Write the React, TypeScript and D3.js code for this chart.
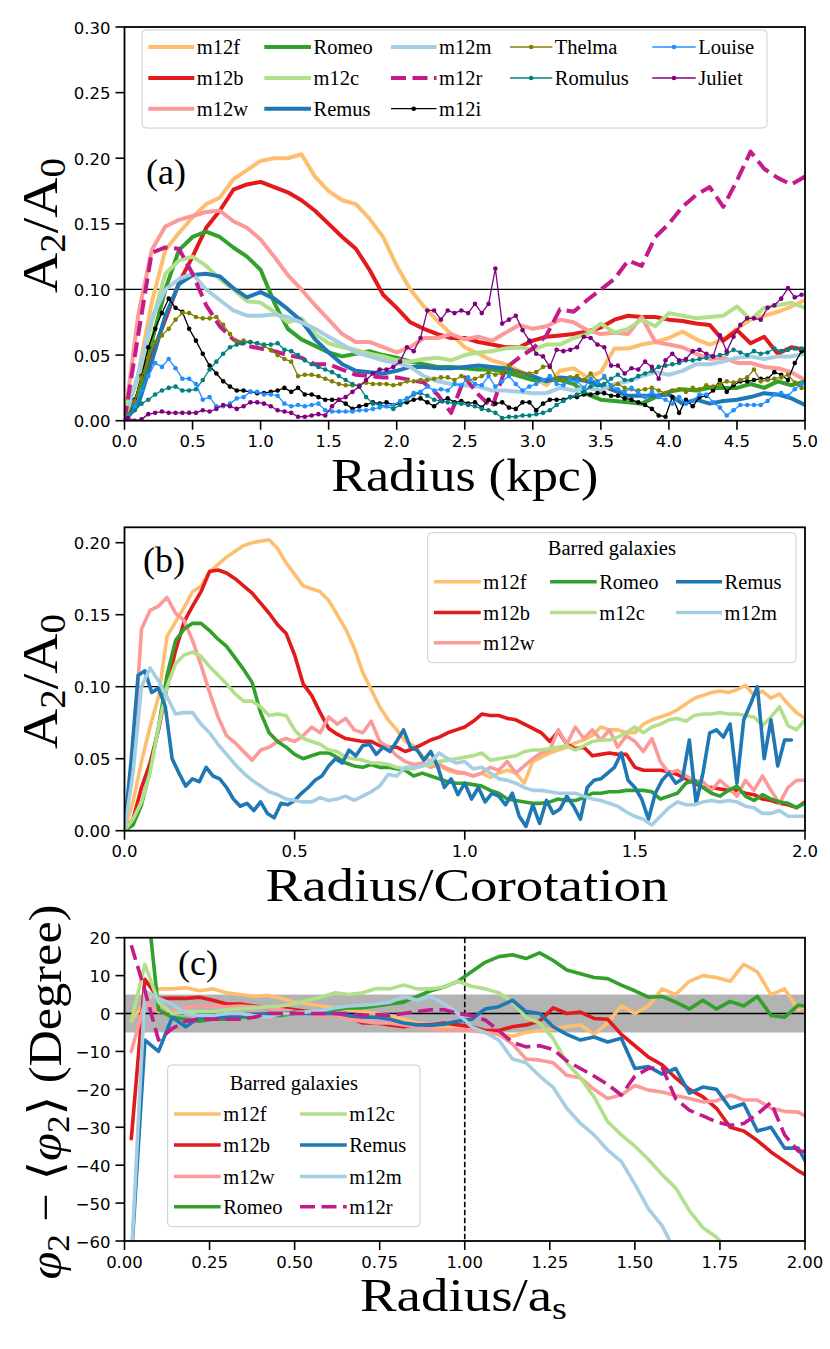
import React from 'react';
import * as d3 from 'd3';

const SERIF = "Liberation Serif, DejaVu Serif, Times New Roman, serif";
const SANS = "DejaVu Sans, sans-serif";

// sampling grids
const radiusA = d3.range(0, 5.0001, 0.1);
const radiusAMarked = d3.range(0.025, 5, 0.05);
const corotB = d3.range(0, 2.0001, 0.025);
const corotBRemus = d3.range(0, 1.9601, 0.02);
const radiusC = d3.range(0.02, 2.0201, 0.04);

// ---- panel (a): A2/A0 vs radius (kpc) ----
const m12fA = [0, 0.035, 0.09, 0.13, 0.143, 0.155, 0.165, 0.17, 0.184, 0.191, 0.198, 0.2, 0.2, 0.203, 0.186, 0.175, 0.168, 0.165, 0.154, 0.14, 0.118, 0.1, 0.087, 0.076, 0.066, 0.056, 0.051, 0.046, 0.043, 0.038, 0.033, 0.027, 0.038, 0.04, 0.033, 0.037, 0.055, 0.055, 0.058, 0.06, 0.063, 0.068, 0.062, 0.058, 0.062, 0.07, 0.077, 0.08, 0.083, 0.087, 0.092];
const m12bA = [0, 0.015, 0.05, 0.077, 0.105, 0.125, 0.147, 0.16, 0.176, 0.18, 0.182, 0.178, 0.174, 0.168, 0.16, 0.15, 0.14, 0.131, 0.115, 0.096, 0.086, 0.075, 0.07, 0.066, 0.063, 0.063, 0.06, 0.058, 0.056, 0.056, 0.061, 0.064, 0.065, 0.066, 0.068, 0.071, 0.077, 0.08, 0.079, 0.079, 0.077, 0.076, 0.074, 0.073, 0.061, 0.069, 0.059, 0.064, 0.051, 0.056, 0.054];
const m12wA = [0, 0.08, 0.13, 0.148, 0.153, 0.156, 0.159, 0.16, 0.152, 0.147, 0.138, 0.125, 0.111, 0.1, 0.088, 0.077, 0.066, 0.06, 0.06, 0.056, 0.052, 0.056, 0.063, 0.063, 0.066, 0.062, 0.064, 0.061, 0.067, 0.073, 0.07, 0.072, 0.077, 0.075, 0.069, 0.066, 0.067, 0.066, 0.079, 0.06, 0.058, 0.056, 0.051, 0.047, 0.048, 0.044, 0.044, 0.041, 0.04, 0.037, 0.031];
const romeoA = [0, 0.02, 0.06, 0.1, 0.13, 0.14, 0.144, 0.14, 0.132, 0.125, 0.115, 0.09, 0.07, 0.062, 0.057, 0.052, 0.049, 0.051, 0.053, 0.05, 0.048, 0.045, 0.043, 0.041, 0.041, 0.04, 0.039, 0.039, 0.037, 0.034, 0.031, 0.031, 0.031, 0.028, 0.02, 0.016, 0.015, 0.014, 0.013, 0.018, 0.022, 0.024, 0.023, 0.025, 0.025, 0.025, 0.028, 0.025, 0.03, 0.027, 0.03];
const m12cA = [0.01, 0.03, 0.075, 0.112, 0.122, 0.125, 0.118, 0.108, 0.1, 0.091, 0.09, 0.083, 0.075, 0.078, 0.066, 0.059, 0.056, 0.054, 0.051, 0.049, 0.046, 0.045, 0.047, 0.048, 0.046, 0.05, 0.052, 0.053, 0.055, 0.056, 0.054, 0.058, 0.058, 0.063, 0.066, 0.074, 0.067, 0.07, 0.077, 0.072, 0.082, 0.08, 0.078, 0.079, 0.08, 0.087, 0.077, 0.086, 0.088, 0.09, 0.086];
const remusA = [0, 0.012, 0.045, 0.08, 0.104, 0.111, 0.112, 0.11, 0.101, 0.094, 0.098, 0.093, 0.085, 0.076, 0.062, 0.052, 0.043, 0.038, 0.037, 0.036, 0.038, 0.041, 0.041, 0.04, 0.04, 0.041, 0.042, 0.041, 0.04, 0.037, 0.034, 0.03, 0.033, 0.032, 0.03, 0.027, 0.023, 0.019, 0.019, 0.019, 0.02, 0.013, 0.016, 0.013, 0.015, 0.016, 0.018, 0.021, 0.02, 0.017, 0.012];
const m12mA = [0, 0.035, 0.078, 0.1, 0.108, 0.112, 0.1, 0.092, 0.084, 0.08, 0.08, 0.081, 0.079, 0.075, 0.07, 0.064, 0.058, 0.052, 0.049, 0.046, 0.044, 0.041, 0.034, 0.03, 0.028, 0.027, 0.026, 0.023, 0.023, 0.022, 0.021, 0.021, 0.025, 0.023, 0.025, 0.023, 0.028, 0.03, 0.034, 0.037, 0.035, 0.038, 0.043, 0.043, 0.045, 0.048, 0.049, 0.047, 0.049, 0.049, 0.051];
const m12rA = [0, 0.065, 0.128, 0.132, 0.131, 0.112, 0.088, 0.072, 0.062, 0.057, 0.055, 0.053, 0.05, 0.048, 0.043, 0.043, 0.039, 0.035, 0.034, 0.033, 0.033, 0.031, 0.029, 0.02, 0.006, 0.033, 0.02, 0.01, 0.04, 0.048, 0.055, 0.065, 0.085, 0.083, 0.092, 0.1, 0.108, 0.122, 0.118, 0.14, 0.15, 0.163, 0.172, 0.178, 0.163, 0.183, 0.205, 0.192, 0.185, 0.18, 0.186];
const m12iA = [
  0.003, 0.016, 0.034, 0.056, 0.07, 0.082, 0.093, 0.086, 0.083, 0.07,
  0.061, 0.051, 0.042, 0.036, 0.03, 0.026, 0.023, 0.023, 0.022, 0.021,
  0.021, 0.022, 0.023, 0.025, 0.022, 0.025, 0.02, 0.02, 0.018, 0.016,
  0.016, 0.016, 0.013, 0.009, 0.011, 0.012, 0.014, 0.013, 0.014, 0.012,
  0.013, 0.014, 0.016, 0.017, 0.014, 0.011, 0.015, 0.017, 0.014, 0.015,
  0.013, 0.014, 0.01, 0.016, 0.013, 0.014, 0.01, 0.009, 0.014, 0.014,
  0.008, 0.013, 0.016, 0.016, 0.016, 0.018, 0.018, 0.02, 0.02, 0.021,
  0.021, 0.019, 0.019, 0.017, 0.016, 0.014, 0.012, 0.009, 0.004, 0.003,
  0.018, 0.006, 0.016, 0.011, 0.018, 0.019, 0.023, 0.031, 0.022, 0.027,
  0.03, 0.03, 0.031, 0.032, 0.032, 0.037, 0.035, 0.031, 0.044, 0.053,
];
const thelmaA = [
  0.005, 0.015, 0.033, 0.048, 0.06, 0.065, 0.07, 0.077, 0.082, 0.082,
  0.079, 0.078, 0.078, 0.079, 0.073, 0.066, 0.06, 0.061, 0.06, 0.059,
  0.057, 0.054, 0.05, 0.047, 0.045, 0.034, 0.035, 0.035, 0.034, 0.032,
  0.03, 0.028, 0.027, 0.027, 0.027, 0.029, 0.028, 0.028, 0.028, 0.027,
  0.028, 0.03, 0.03, 0.031, 0.031, 0.032, 0.033, 0.033, 0.031, 0.034,
  0.031, 0.032, 0.034, 0.037, 0.035, 0.036, 0.042, 0.037, 0.036, 0.036,
  0.037, 0.041, 0.042, 0.032, 0.031, 0.033, 0.034, 0.031, 0.036, 0.03,
  0.033, 0.026, 0.028, 0.025, 0.024, 0.023, 0.024, 0.025, 0.023, 0.021,
  0.023, 0.024, 0.022, 0.025, 0.024, 0.027, 0.026, 0.028, 0.03, 0.029,
  0.031, 0.033, 0.039, 0.03, 0.031, 0.032, 0.033, 0.035, 0.029, 0.025,
];
const romulusA = [
  0.003, 0.008, 0.013, 0.016, 0.02, 0.023, 0.025, 0.026, 0.023, 0.023,
  0.024, 0.031, 0.039, 0.045, 0.051, 0.056, 0.058, 0.059, 0.06, 0.059,
  0.058, 0.058, 0.059, 0.054, 0.053, 0.05, 0.046, 0.043, 0.041, 0.039,
  0.037, 0.034, 0.031, 0.028, 0.026, 0.018, 0.013, 0.012, 0.011, 0.009,
  0.012, 0.016, 0.02, 0.021, 0.019, 0.016, 0.015, 0.014, 0.013, 0.013,
  0.012, 0.011, 0.009, 0.008, 0.006, 0.002, 0.003, 0.003, 0.004, 0.004,
  0.005, 0.006, 0.008, 0.012, 0.015, 0.018, 0.02, 0.022, 0.026, 0.027,
  0.028, 0.032, 0.035, 0.031, 0.031, 0.034, 0.036, 0.038, 0.041, 0.042,
  0.043, 0.044, 0.046, 0.046, 0.047, 0.048, 0.049, 0.05, 0.051, 0.054,
  0.052, 0.05, 0.053, 0.051, 0.052, 0.055, 0.053, 0.054, 0.055, 0.055,
];
const louiseA = [
  0.003, 0.011, 0.023, 0.034, 0.044, 0.041, 0.047, 0.04, 0.032, 0.032,
  0.028, 0.016, 0.018, 0.011, 0.011, 0.013, 0.017, 0.018, 0.022, 0.022,
  0.02, 0.02, 0.019, 0.013, 0.011, 0.012, 0.011, 0.012, 0.013, 0.008,
  0.007, 0.007, 0.007, 0.007, 0.008, 0.008, 0.009, 0.01, 0.011, 0.012,
  0.015, 0.017, 0.021, 0.022, 0.026, 0.023, 0.024, 0.023, 0.028, 0.027,
  0.033, 0.028, 0.027, 0.034, 0.026, 0.03, 0.034, 0.028, 0.023, 0.026,
  0.028, 0.031, 0.034, 0.028, 0.027, 0.031, 0.03, 0.025, 0.032, 0.029,
  0.034, 0.027, 0.024, 0.022, 0.025, 0.021, 0.018, 0.022, 0.018, 0.016,
  0.013, 0.018, 0.013, 0.015, 0.02, 0.02, 0.014, 0.01, 0.004, 0.008,
  0.012, 0.012, 0.012, 0.012, 0.015, 0.02, 0.021, 0.019, 0.024, 0.028,
];
const julietA = [
  0.002, 0.0, 0.001, 0.005, 0.006, 0.007, 0.006, 0.006, 0.006, 0.006,
  0.006, 0.008, 0.007, 0.009, 0.012, 0.011, 0.009, 0.011, 0.014, 0.014,
  0.013, 0.011, 0.008, 0.007, 0.006, 0.003, 0.003, 0.004, 0.005, 0.004,
  0.011, 0.016, 0.018, 0.022, 0.026, 0.031, 0.036, 0.039, 0.039, 0.041,
  0.045, 0.056, 0.053, 0.063, 0.084, 0.084, 0.077, 0.084, 0.082, 0.084,
  0.082, 0.089, 0.082, 0.089, 0.116, 0.074, 0.077, 0.08, 0.069, 0.061,
  0.051, 0.049, 0.041, 0.054, 0.053, 0.054, 0.056, 0.064, 0.063, 0.058,
  0.056, 0.042, 0.042, 0.036, 0.04, 0.039, 0.045, 0.041, 0.032, 0.046,
  0.051, 0.046, 0.047, 0.053, 0.054, 0.051, 0.049, 0.065, 0.053, 0.064,
  0.073, 0.078, 0.078, 0.077, 0.086, 0.088, 0.093, 0.101, 0.094, 0.096,
];

// ---- panel (b): A2/A0 vs radius / corotation ----
const m12fB = [
  0, 0.02, 0.048, 0.072, 0.093, 0.135, 0.145, 0.155, 0.166, 0.17,
  0.18, 0.185, 0.19, 0.194, 0.198, 0.2, 0.201, 0.202, 0.196, 0.186,
  0.178, 0.17, 0.168, 0.166, 0.16, 0.15, 0.14, 0.127, 0.11, 0.098,
  0.086, 0.077, 0.07, 0.062, 0.059, 0.052, 0.048, 0.045, 0.042, 0.04,
  0.04, 0.038, 0.04, 0.037, 0.04, 0.042, 0.04, 0.033, 0.048, 0.051,
  0.054, 0.056, 0.058, 0.061, 0.063, 0.066, 0.072, 0.07, 0.07, 0.068,
  0.068, 0.074, 0.077, 0.079, 0.081, 0.084, 0.088, 0.092, 0.094, 0.096,
  0.097, 0.096, 0.098, 0.101, 0.094, 0.097, 0.092, 0.095, 0.088, 0.082,
  0.078,
];
const m12bB = [
  0, 0.008, 0.03, 0.047, 0.07, 0.1, 0.125, 0.145, 0.156, 0.166,
  0.18, 0.181, 0.179, 0.175, 0.17, 0.165, 0.158, 0.151, 0.143, 0.137,
  0.122, 0.102, 0.094, 0.082, 0.071, 0.067, 0.064, 0.063, 0.062, 0.062,
  0.059, 0.058, 0.058, 0.055, 0.057, 0.06, 0.063, 0.065, 0.068, 0.07,
  0.072, 0.076, 0.081, 0.08, 0.08, 0.078, 0.077, 0.074, 0.071, 0.068,
  0.062, 0.069, 0.06, 0.057, 0.058, 0.052, 0.053, 0.054, 0.053, 0.053,
  0.044, 0.042, 0.042, 0.042, 0.041, 0.039, 0.036, 0.033, 0.03, 0.03,
  0.029, 0.028, 0.028, 0.026, 0.025, 0.022, 0.021, 0.019, 0.018, 0.016,
  0.02,
];
const m12wB = [
  0, 0.05, 0.14, 0.153, 0.156, 0.162, 0.151, 0.146, 0.132, 0.115,
  0.096, 0.079, 0.066, 0.061, 0.055, 0.049, 0.056, 0.058, 0.062, 0.064,
  0.062, 0.066, 0.072, 0.068, 0.079, 0.074, 0.078, 0.07, 0.068, 0.076,
  0.062, 0.058, 0.052, 0.048, 0.046, 0.047, 0.044, 0.046, 0.043, 0.041,
  0.04, 0.038, 0.04, 0.044, 0.042, 0.048, 0.04, 0.045, 0.05, 0.054,
  0.056, 0.07, 0.06, 0.072, 0.064, 0.07, 0.063, 0.07, 0.058, 0.066,
  0.062, 0.055, 0.064, 0.048, 0.04, 0.042, 0.038, 0.035, 0.034, 0.028,
  0.035, 0.03, 0.024, 0.035, 0.028, 0.038, 0.028, 0.019, 0.03, 0.035,
  0.035,
];
const romeoB = [
  0, 0.004, 0.018, 0.042, 0.072, 0.108, 0.132, 0.14, 0.144, 0.144,
  0.139, 0.133, 0.128, 0.12, 0.112, 0.103, 0.082, 0.068, 0.062, 0.058,
  0.053, 0.05, 0.052, 0.054, 0.054, 0.051, 0.047, 0.045, 0.044, 0.046,
  0.044, 0.044, 0.043, 0.042, 0.038, 0.04, 0.038, 0.036, 0.034, 0.033,
  0.033, 0.032, 0.031, 0.028, 0.026, 0.022, 0.021, 0.02, 0.019, 0.019,
  0.02, 0.022, 0.021, 0.021, 0.023, 0.026, 0.026, 0.027, 0.027, 0.028,
  0.028, 0.028, 0.027, 0.022, 0.024, 0.026, 0.033, 0.035, 0.03, 0.026,
  0.024, 0.028, 0.031, 0.024, 0.021, 0.025, 0.022, 0.02, 0.019, 0.016,
  0.019,
];
const m12cB = [
  0, 0.008, 0.02, 0.04, 0.072, 0.1, 0.116, 0.122, 0.124, 0.121,
  0.114, 0.108, 0.102, 0.095, 0.09, 0.09, 0.086, 0.08, 0.081, 0.08,
  0.07, 0.064, 0.062, 0.06, 0.056, 0.055, 0.051, 0.05, 0.049, 0.047,
  0.047, 0.046, 0.044, 0.043, 0.043, 0.045, 0.046, 0.048, 0.049, 0.05,
  0.051, 0.052, 0.054, 0.049, 0.05, 0.051, 0.052, 0.055, 0.056, 0.056,
  0.057, 0.058, 0.059, 0.056, 0.059, 0.062, 0.063, 0.063, 0.065, 0.068,
  0.072, 0.068, 0.072, 0.074, 0.077, 0.078, 0.076, 0.08, 0.081, 0.081,
  0.082, 0.081, 0.081, 0.08, 0.079, 0.073, 0.079, 0.086, 0.073, 0.07,
  0.077,
];
const m12mB = [
  0, 0.04, 0.1, 0.113, 0.104, 0.093, 0.081, 0.082, 0.082, 0.074,
  0.068, 0.06, 0.053, 0.046, 0.04, 0.035, 0.031, 0.027, 0.025, 0.022,
  0.021, 0.02, 0.02, 0.023, 0.021, 0.022, 0.024, 0.021, 0.024, 0.027,
  0.031, 0.039, 0.038, 0.044, 0.044, 0.045, 0.048, 0.054, 0.05, 0.047,
  0.048, 0.043, 0.044, 0.04, 0.036, 0.035, 0.033, 0.03, 0.028, 0.028,
  0.027, 0.026, 0.026, 0.026, 0.024, 0.022, 0.021, 0.019, 0.017, 0.013,
  0.01, 0.008, 0.004, 0.01, 0.016, 0.02, 0.018, 0.018, 0.02, 0.021,
  0.02, 0.021, 0.02, 0.017, 0.016, 0.012, 0.012, 0.014, 0.01, 0.01,
  0.01,
];
const remusB = [
  0.002, 0.05, 0.108, 0.111, 0.096, 0.099, 0.086, 0.05, 0.04, 0.031,
  0.036, 0.034, 0.044, 0.038, 0.036, 0.03, 0.022, 0.017, 0.019, 0.014,
  0.02, 0.012, 0.009, 0.019, 0.018, 0.021, 0.026, 0.03, 0.035, 0.038,
  0.045, 0.05, 0.047, 0.056, 0.052, 0.059, 0.06, 0.053, 0.058, 0.055,
  0.062, 0.07, 0.058, 0.056, 0.049, 0.055, 0.045, 0.03, 0.036, 0.025,
  0.033, 0.022, 0.03, 0.02, 0.026, 0.024, 0.018, 0.026, 0.01, 0.003,
  0.018, 0.005, 0.021, 0.012, 0.015, 0.024, 0.017, 0.008, 0.03, 0.035,
  0.036, 0.04, 0.044, 0.054, 0.035, 0.03, 0.022, 0.008, 0.026, 0.035,
  0.04, 0.033, 0.036, 0.063, 0.019, 0.04, 0.068, 0.07, 0.065, 0.074,
  0.033, 0.077, 0.088, 0.1, 0.05, 0.077, 0.045, 0.063, 0.063,
];

// ---- panel (c): phi2 - <phi2> (degree) vs radius / a_s ----
const m12fC = [-2, 3, 6.5, 6.5, 6.8, 6.0, 6.5, 5.5, 5.0, 4.5, 4.8, 4.0, 3.0, 2.5, 2.0, 1.5, 1.0, 0.5, 0.0, -0.5, -1.5, -2.5, -3.0, -3.5, -3.5, -4.0, -4.5, -5.5, -6.0, -5.0, -4.5, -4.0, -3.5, -3.0, -5.5, -2.5, 2.0, 0.0, 2.0, 6.5, 5.0, 8.5, 10.0, 9.5, 8.5, 13, 11, 5, 6.5, 1, 3];
const m12bC = [-33, 9, 4, 4, 4, 4.3, 3.5, 2.5, 2.5, 2, 1.5, 1.5, 1, 0.5, 0, -0.5, -1, -2.5, -2.5, -3, -3.5, -3, -3, -2.5, -3, -3.5, -4.5, -4.5, -3.5, -3, -2, 1.5, 0, 0.4, -1.3, -1.5, -5.5, -8.5, -11.5, -13.5, -17, -20, -22, -25, -30, -31, -33.5, -36.5, -39, -41.5, -43.5];
const m12wC = [-10, 3, 0.4, 0.8, 1.5, 2, 2, 1.8, 2, 1.8, 1.5, 1, 0.5, 0, -0.5, -0.5, -1.5, -2, -2.5, -2.5, -3, -3.5, -4, -4.5, -4.2, -4.5, -5, -5.5, -8, -12, -12.3, -13, -16.3, -17, -20, -22.4, -21.5, -19, -20.2, -20.7, -21.6, -22.4, -23.3, -23, -21.5, -22.8, -22.8, -25, -25.8, -26, -28];
const romeoC = [60, 35, 1, -1, -1.5, -2, -1.5, -1.5, -1, -1, -0.5, -0.5, 0, 0.5, 0.5, 1, 1.5, 1.5, 2, 2.5, 3, 4.5, 6, 7, 8.5, 11, 13.5, 15, 15.5, 14.5, 16, 14, 11.5, 10.5, 9.5, 9.2, 7.5, 6, 4.3, 4.5, 3, 1.2, 3.5, 1.2, 3.2, 2, 4.5, -0.5, -1, 2.2, 1.8];
const m12cC = [-2, 13, 3, 0, 0.5, 0.5, 0.5, 1, 1.3, 1.5, 1.8, 2, 2.5, 3.5, 4.4, 5.5, 5, 5.5, 6.6, 6.5, 7.5, 6.5, 6.5, 7, 8.5, 7.2, 6.5, 5.5, 3, -1, -2.5, -6.6, -13, -17, -22, -28.5, -32, -35, -38.5, -42.5, -46, -52, -56.5, -59, -63, -68];
const remusC = [-65, -7, -10, -1, -3.5, -1, -1, -1, -0.5, -0.5, 0, 0, 0.3, 0, 0, 0, -0.5, -1, -1, -1.5, -2.5, -3, -3.1, -2.8, -2, -1.5, 1.2, 1.8, 3.5, 0.5, 0, -3.5, -5.5, -7, -6.2, -7.5, -6.5, -14.5, -14, -16, -14.5, -21, -19.4, -20, -25, -23.8, -31, -30, -35.5, -35.5, -42];
const m12mC = [-65, 6, 4, 2.5, 0, -0.5, -0.5, 0, 0, -0.5, -1, 0, 0, 0.5, 0.8, 1.5, 2, 2.2, 2.5, 3, 4.5, 3.5, 4.5, 2.5, 0, -3.5, -5, -7, -12, -13, -16.5, -19.5, -25, -29, -32, -36, -39, -45, -51.5, -56, -63];
const m12rC = [18, 6, -7, -4, -2, -1.5, -1.5, -1.5, -1.5, -1, 0, 0, 0, 0, 0, 0, 0, -0.5, -0.3, -0.5, 0, 0.5, 1, 1, 0, -0.5, -1.7, -4.5, -7.6, -8.8, -8.5, -9.5, -12.5, -14.5, -16.5, -18.7, -21.5, -16.5, -14.5, -14.2, -22.5, -25.5, -27, -28.6, -29.5, -29, -26.5, -23.5, -32, -36.3, -36.5];

const COLORS: Record<string, string> = {
  m12f: '#fdbf6f', m12b: '#e31a1c', m12w: '#fb9a99', Romeo: '#33a02c',
  m12c: '#b2df8a', Remus: '#1f78b4', m12m: '#a6cee3', m12r: '#c51b8a',
  m12i: '#000000', Thelma: '#808000', Romulus: '#008080', Louise: '#1e90ff', Juliet: '#800080',
};

type Series = { name: string; x: number[]; y: number[]; width: number; dash?: string; marker?: boolean };

const X0 = 124.5, X1 = 805;
const DASH = '15,6.5';
const LEG_FS = 20.5;

const seriesA: Series[] = [
  { name: 'm12f', x: radiusA, y: m12fA, width: 4 },
  { name: 'm12b', x: radiusA, y: m12bA, width: 4 },
  { name: 'm12w', x: radiusA, y: m12wA, width: 4 },
  { name: 'Romeo', x: radiusA, y: romeoA, width: 4 },
  { name: 'm12c', x: radiusA, y: m12cA, width: 4 },
  { name: 'Remus', x: radiusA, y: remusA, width: 4 },
  { name: 'm12m', x: radiusA, y: m12mA, width: 4 },
  { name: 'm12r', x: radiusA, y: m12rA, width: 4, dash: DASH },
  { name: 'm12i', x: radiusAMarked, y: m12iA, width: 1.3, marker: true },
  { name: 'Thelma', x: radiusAMarked, y: thelmaA, width: 1.3, marker: true },
  { name: 'Romulus', x: radiusAMarked, y: romulusA, width: 1.3, marker: true },
  { name: 'Louise', x: radiusAMarked, y: louiseA, width: 1.3, marker: true },
  { name: 'Juliet', x: radiusAMarked, y: julietA, width: 1.3, marker: true },
];

const seriesB: Series[] = [
  { name: 'm12f', x: corotB, y: m12fB, width: 3.6 },
  { name: 'm12b', x: corotB, y: m12bB, width: 3.6 },
  { name: 'm12w', x: corotB, y: m12wB, width: 3.6 },
  { name: 'Romeo', x: corotB, y: romeoB, width: 3.6 },
  { name: 'm12c', x: corotB, y: m12cB, width: 3.6 },
  { name: 'Remus', x: corotBRemus, y: remusB, width: 3.6 },
  { name: 'm12m', x: corotB, y: m12mB, width: 3.6 },
];

const seriesC: Series[] = [
  { name: 'm12f', x: radiusC, y: m12fC, width: 3.6 },
  { name: 'm12b', x: radiusC, y: m12bC, width: 3.6 },
  { name: 'm12w', x: radiusC, y: m12wC, width: 3.6 },
  { name: 'Romeo', x: radiusC, y: romeoC, width: 3.6 },
  { name: 'm12c', x: radiusC, y: m12cC, width: 3.6 },
  { name: 'Remus', x: radiusC, y: remusC, width: 3.6 },
  { name: 'm12m', x: radiusC, y: m12mC, width: 3.6 },
  { name: 'm12r', x: radiusC, y: m12rC, width: 3.6, dash: DASH },
];

type Scale = d3.ScaleLinear<number, number>;

const Lines = ({ series, xs, ys, clip }: { series: Series[]; xs: Scale; ys: Scale; clip: string }) => {
  const line = d3.line<[number, number]>().x(d => xs(d[0])).y(d => ys(d[1]));
  return (
    <g clipPath={`url(#${clip})`}>
      {series.map(s => {
        const pts = s.y.map((v, i) => [s.x[i], v] as [number, number]);
        return (
          <g key={s.name}>
            <path d={line(pts) || ''} fill="none" stroke={COLORS[s.name]} strokeWidth={s.width}
              strokeDasharray={s.dash} strokeLinejoin="round" strokeLinecap={s.dash ? 'butt' : 'round'} />
            {s.marker && pts.map((p, i) => (
              <circle key={i} cx={xs(p[0])} cy={ys(p[1])} r={2.3} fill={COLORS[s.name]} />
            ))}
          </g>
        );
      })}
    </g>
  );
};

const Axes = ({ xs, ys, xTicks, yTicks, xFmt, yFmt }: {
  xs: Scale; ys: Scale; xTicks: number[]; yTicks: number[];
  xFmt: (n: number) => string; yFmt: (n: number) => string;
}) => {
  const [x0, x1] = xs.range();
  const [yb, yt] = ys.range();
  return (
    <g>
      {xTicks.map(t => (
        <g key={'x' + t}>
          <line x1={xs(t)} x2={xs(t)} y1={yb} y2={yb + 9} stroke="#000" strokeWidth={1.6} />
          <text x={xs(t)} y={yb + 26.6} textAnchor="middle" fontFamily={SANS} fontSize={16.5}>{xFmt(t)}</text>
        </g>
      ))}
      {yTicks.map(t => (
        <g key={'y' + t}>
          <line x1={x0 - 9} x2={x0} y1={ys(t)} y2={ys(t)} stroke="#000" strokeWidth={1.6} />
          <text x={x0 - 14} y={ys(t)} dy="0.4em" textAnchor="end" fontFamily={SANS} fontSize={16.5}>{yFmt(t)}</text>
        </g>
      ))}
      <rect x={x0} y={yt} width={x1 - x0} height={yb - yt} fill="none" stroke="#000" strokeWidth={1.8} />
    </g>
  );
};

type Entry = { s: Series; col: number; row: number };

const Legend = ({ box, title, titleY, cols, rows, entries }: {
  box: [number, number, number, number]; title?: string; titleY?: number;
  cols: [number, number][]; rows: number[]; entries: Entry[];
}) => (
  <g>
    <rect x={box[0]} y={box[1]} width={box[2] - box[0]} height={box[3] - box[1]} rx={4}
      fill="#fff" fillOpacity={0.8} stroke="#cccccc" strokeWidth={1} />
    {title && (
      <text x={(box[0] + box[2]) / 2} y={titleY} textAnchor="middle" fontFamily={SERIF} fontSize={LEG_FS}>{title}</text>
    )}
    {entries.map(({ s, col, row }) => {
      const [h0, h1] = cols[col];
      const y = rows[row];
      return (
        <g key={s.name}>
          <line x1={h0} x2={h1} y1={y} y2={y} stroke={COLORS[s.name]} strokeWidth={s.width}
            strokeDasharray={s.dash} strokeLinecap="butt" />
          {s.marker && <circle cx={(h0 + h1) / 2} cy={y} r={2.3} fill={COLORS[s.name]} />}
          <text x={h1 + 2.5} y={y + 7.3} fontFamily={SERIF} fontSize={LEG_FS}>{s.name}</text>
        </g>
      );
    })}
  </g>
);

const byName = (list: Series[], n: string) => list.find(s => s.name === n)!;

const YLabelA = ({ cy }: { cy: number }) => (
  <text transform={`translate(57,${cy}) rotate(-90)`} textAnchor="middle" fontFamily={SERIF}
    fontSize={50} textLength={135} lengthAdjust="spacingAndGlyphs">
    A<tspan fontSize={35} dy={8}>2</tspan><tspan dy={-8}>/A</tspan><tspan fontSize={35} dy={8}>0</tspan>
  </text>
);

export default function App() {
  const xA = d3.scaleLinear().domain([0, 5]).range([X0, X1]);
  const yA = d3.scaleLinear().domain([0, 0.3]).range([420.7, 27]);
  const xB = d3.scaleLinear().domain([0, 2]).range([X0, X1]);
  const yB = d3.scaleLinear().domain([0, 0.2107]).range([830.7, 527.3]);
  const xC = d3.scaleLinear().domain([0, 2]).range([X0, X1]);
  const yC = d3.scaleLinear().domain([-60, 20]).range([1241, 937.7]);

  const f1 = d3.format('.1f');
  const f2 = d3.format('.2f');
  const fd = d3.format('d');

  const clipRect = (id: string, xs: Scale, ys: Scale) => {
    const [x0, x1] = xs.range();
    const [yb, yt] = ys.range();
    return <clipPath id={id}><rect x={x0} y={yt} width={x1 - x0} height={yb - yt} /></clipPath>;
  };

  const legA: Entry[] = [
    ['m12f', 0, 0], ['m12b', 0, 1], ['m12w', 0, 2],
    ['Romeo', 1, 0], ['m12c', 1, 1], ['Remus', 1, 2],
    ['m12m', 2, 0], ['m12r', 2, 1], ['m12i', 2, 2],
    ['Thelma', 3, 0], ['Romulus', 3, 1],
    ['Louise', 4, 0], ['Juliet', 4, 1],
  ].map(([n, c, r]) => ({ s: byName(seriesA, n as string), col: c as number, row: r as number }));

  const legB: Entry[] = [
    ['m12f', 0, 0], ['m12b', 0, 1], ['m12w', 0, 2],
    ['Romeo', 1, 0], ['m12c', 1, 1],
    ['Remus', 2, 0], ['m12m', 2, 1],
  ].map(([n, c, r]) => ({ s: byName(seriesB, n as string), col: c as number, row: r as number }));

  const legC: Entry[] = [
    ['m12f', 0, 0], ['m12b', 0, 1], ['m12w', 0, 2], ['Romeo', 0, 3],
    ['m12c', 1, 0], ['Remus', 1, 1], ['m12m', 1, 2], ['m12r', 1, 3],
  ].map(([n, c, r]) => ({ s: byName(seriesC, n as string), col: c as number, row: r as number }));

  return (
    <svg width={830} height={1349} viewBox="0 0 830 1349"
      style={{ position: 'absolute', left: 0, top: 0, background: '#fff' }}>
      <defs>
        {clipRect('clipA', xA, yA)}
        {clipRect('clipB', xB, yB)}
        {clipRect('clipC', xC, yC)}
      </defs>
      <rect x={0} y={0} width={830} height={1349} fill="#fff" />

      {/* ---------- panel (a) ---------- */}
      <line x1={X0} x2={X1} y1={yA(0.1)} y2={yA(0.1)} stroke="#000" strokeWidth={1.2} />
      <Lines series={seriesA} xs={xA} ys={yA} clip="clipA" />
      <Axes xs={xA} ys={yA} xTicks={d3.range(0, 5.01, 0.5)} yTicks={d3.range(0, 0.301, 0.05)} xFmt={f1} yFmt={f2} />
      <Legend box={[142, 30, 767, 128]} cols={[[148.3, 194.3], [264.3, 311], [391, 436.5], [510, 552.3], [652.3, 695.7]]}
        rows={[47, 78, 108.7]} entries={legA} />
      <text x={146} y={184} fontFamily={SERIF} fontSize={36}>(a)</text>
      <text x={464.75} y={491} textAnchor="middle" fontFamily={SERIF} fontSize={46} textLength={267} lengthAdjust="spacingAndGlyphs">Radius (kpc)</text>
      <YLabelA cy={225.5} />

      {/* ---------- panel (b) ---------- */}
      <line x1={X0} x2={X1} y1={yB(0.1)} y2={yB(0.1)} stroke="#000" strokeWidth={1.2} />
      <Lines series={seriesB} xs={xB} ys={yB} clip="clipB" />
      <Axes xs={xB} ys={yB} xTicks={d3.range(0, 2.01, 0.5)} yTicks={d3.range(0, 0.201, 0.05)} xFmt={f1} yFmt={f2} />
      <Legend box={[427.7, 532.7, 796, 662.7]} title="Barred galaxies" titleY={555}
        cols={[[434, 480.7], [550, 596.7], [676, 722]]} rows={[581.7, 612.5, 642.7]} entries={legB} />
      <text x={143} y={572} fontFamily={SERIF} fontSize={36}>(b)</text>
      <text x={467} y={901} textAnchor="middle" fontFamily={SERIF} fontSize={46} textLength={403} lengthAdjust="spacingAndGlyphs">Radius/Corotation</text>
      <YLabelA cy={681.5} />

      {/* ---------- panel (c) ---------- */}
      <rect x={X0} y={yC(5)} width={X1 - X0} height={yC(-5) - yC(5)} fill="#b3b3b3" />
      <line x1={X0} x2={X1} y1={yC(0)} y2={yC(0)} stroke="#000" strokeWidth={1.6} />
      <line x1={xC(1)} x2={xC(1)} y1={yC(20)} y2={yC(-60)} stroke="#000" strokeWidth={1.6} strokeDasharray="5.5,2.5" />
      <Lines series={seriesC} xs={xC} ys={yC} clip="clipC" />
      <Axes xs={xC} ys={yC} xTicks={d3.range(0, 2.01, 0.25)} yTicks={d3.range(-60, 21, 10)} xFmt={f2} yFmt={fd} />
      <Legend box={[167.7, 1065, 420, 1226.7]} title="Barred galaxies" titleY={1090}
        cols={[[174, 220.7], [300, 346.7]]} rows={[1114, 1145, 1176.5, 1206.7]} entries={legC} />
      <text x={178} y={975} fontFamily={SERIF} fontSize={36}>(c)</text>
      <text x={463.5} y={1311} textAnchor="middle" fontFamily={SERIF} fontSize={46} textLength={207} lengthAdjust="spacingAndGlyphs">
        Radius/a<tspan fontSize={32} dy={8}>s</tspan>
      </text>
      <text transform="translate(61,1092) rotate(-90)" textAnchor="middle" fontFamily={SERIF} fontSize={46}
        textLength={375} lengthAdjust="spacingAndGlyphs">
        <tspan fontStyle="italic">φ</tspan><tspan fontSize={32} dy={8}>2</tspan>
        <tspan dy={-8}> − ⟨</tspan><tspan fontStyle="italic">φ</tspan><tspan fontSize={32} dy={8}>2</tspan>
        <tspan dy={-8}>⟩ (Degree)</tspan>
      </text>
    </svg>
  );
}
